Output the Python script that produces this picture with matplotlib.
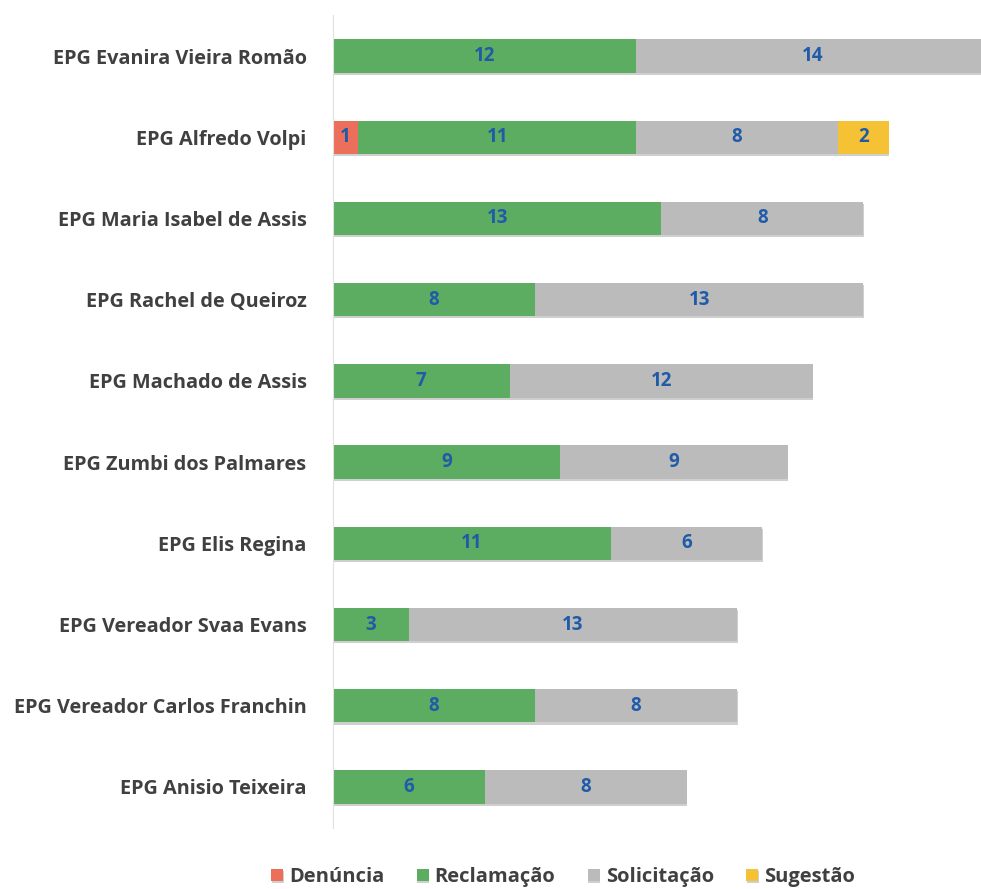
import matplotlib
matplotlib.use("Agg")
import matplotlib.pyplot as plt
import matplotlib.patheffects as pe
import numpy as np

categories = ["EPG Evanira Vieira Romão", "EPG Alfredo Volpi", "EPG Maria Isabel de Assis",
              "EPG Rachel de Queiroz", "EPG Machado de Assis", "EPG Zumbi dos Palmares",
              "EPG Elis Regina", "EPG Vereador Svaa Evans", "EPG Vereador Carlos Franchin",
              "EPG Anisio Teixeira"]
series_names = ["Denúncia", "Reclamação", "Solicitação", "Sugestão"]
denuncia = [0, 1, 0, 0, 0, 0, 0, 0, 0, 0]
reclamacao = [12, 11, 13, 8, 7, 9, 11, 3, 8, 6]
solicitacao = [14, 8, 8, 13, 12, 9, 6, 13, 8, 8]
sugestao = [0, 2, 0, 0, 0, 0, 0, 0, 0, 0]
colors = ["#EC6F5C", "#5CAD62", "#BBBBBB", "#F6C235"]

plt.rcParams['font.family'] = ['Open Sans', 'DejaVu Sans']

fig = plt.figure(figsize=(9.81, 8.89), dpi=100)
ax = fig.add_axes([333/981, 1 - 827.6/889, 1 - 333/981, (827.6 - 15.4)/889])

y = np.arange(len(categories))
left = np.zeros(len(categories))
shadow = [pe.SimplePatchShadow(offset=(0.5, -1.5), alpha=0.35, shadow_rgbFace="#777777"), pe.Normal()]
for name, vals, col in zip(series_names, [denuncia, reclamacao, solicitacao, sugestao], colors):
    vals = np.array(vals, dtype=float)
    bars = ax.barh(y, vals, left=left, height=0.41, color=col, label=name, clip_on=True)
    for b, v in zip(bars, vals):
        b.set_path_effects(shadow)
        if v > 0:
            ax.text(b.get_x() + b.get_width()/2, b.get_y() + b.get_height()/2, f"{int(v)}",
                    ha="center", va="center", color="#1F5BA8", fontsize=13.5, fontweight="bold")
    left += vals

ax.set_ylim(9.5, -0.5)
ax.set_xlim(0, (981 - 333) / 25.25)
ax.set_yticks(y)
ax.set_yticklabels(categories, fontsize=14.3, fontweight="bold", color="#404040")
ax.tick_params(axis="y", length=0, pad=19)
ax.set_xticks([])
for s in ["top", "right", "bottom"]:
    ax.spines[s].set_visible(False)
ax.spines["left"].set_color("#E0E0E0")
ax.spines["left"].set_linewidth(0.8)

handles, labels = ax.get_legend_handles_labels()
leg = fig.legend(handles, labels, loc="center", bbox_to_anchor=(563/981, 1 - 877/889), ncol=4,
                 frameon=False, fontsize=14.5, handlelength=0.6, handleheight=0.6,
                 handletextpad=0.3, columnspacing=1.6)
for t in leg.get_texts():
    t.set_color("#404040")
    t.set_fontweight("bold")

fig.savefig("out.png", dpi=100)
